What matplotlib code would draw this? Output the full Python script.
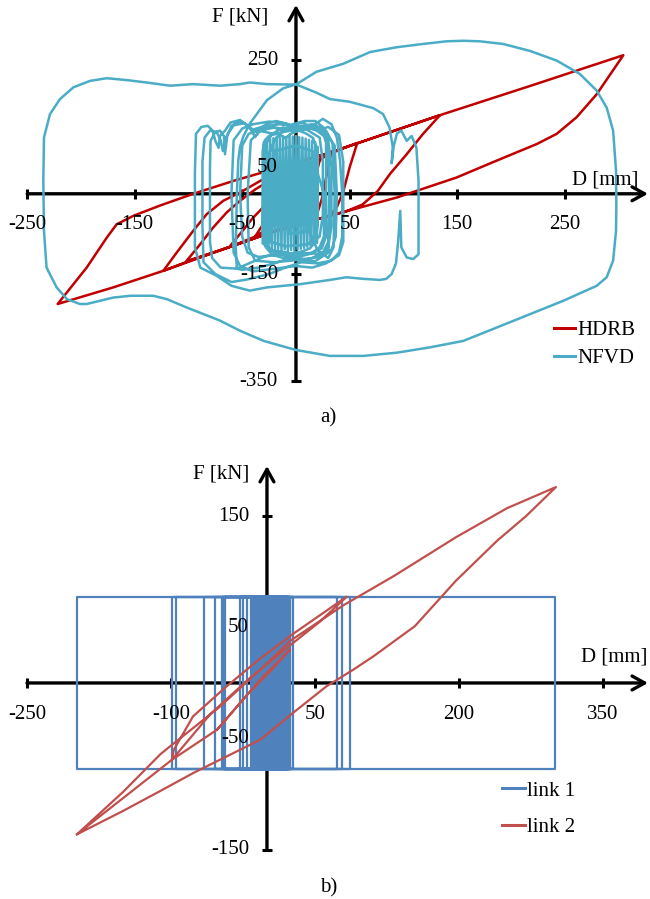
import matplotlib.pyplot as plt
from matplotlib.lines import Line2D

plt.rcParams['font.family'] = ['Liberation Serif', 'DejaVu Serif']
plt.rcParams['font.size'] = 15

W, H = 650, 899

# ---------------- a) HDRB / NFVD : D [mm], F [kN] ----------------
hdrb_small = [(-38, -80), (-30, -55), (-20, -25), (-5, 15), (10, 45), (22, 62),
              (18, 30), (14, 0), (8, -25), (-10, -45), (-38, -80), (-61, -99)]
hdrb_d = [(-61, -97), (-50, -70), (-40, -45), (-28, -20), (-15, 5), (0, 28),
          (15, 52), (33, 79), (28, 30), (24, -10), (18, -48), (-20, -70),
          (-61, -99), (-102, -126)]
hdrb_c = [(-102, -126), (-89, -94), (-77, -63), (-64.5, -35), (-52, -13),
          (-38, 8), (-20, 30), (0, 48), (20, 64), (40, 82), (57, 95),
          (50, 50), (44, 4), (38, -25), (31.6, -41), (-20, -70), (-58.3, -97),
          (-100, -126), (-123.4, -144)]
hdrb_b = [(-123.4, -144), (-111, -110), (-95.5, -69), (-83, -38), (-67.6, -13),
          (-52, 2.4), (-35, 22), (-15, 45), (10, 64), (31.6, 77), (80, 110),
          (134, 147), (118, 111.5), (103, 74), (87.4, 37), (76, 5), (62, -20),
          (45, -34), (31.6, -41), (-20, -70), (-58.3, -97), (-123.4, -144),
          (-170, -175), (-221.7, -206)]
hdrb_a = [(-221.7, -206), (-194.7, -138), (-176, -82), (-166.8, -57), (-151, -41),
          (-126.5, -22), (-95.5, 0), (-58.3, 24), (0, 58), (31.6, 77), (134, 147),
          (220, 203), (304.5, 259), (279.7, 186), (261, 143), (242.5, 112),
          (224, 93), (186.7, 62), (149.5, 30.5), (93.7, -7), (31.6, -41)]

nfvd_core_zig = [(-31, -92), (-30, 96), (-28.5, -98), (-27, 100), (-25.5, -100),
                 (-24, 102), (-22.5, -102), (-21, 104), (-19.5, -104), (-18, 106),
                 (-16.5, -103), (-15, 105), (-13.5, -106), (-12, 108), (-10.5, -104),
                 (-9, 106), (-7.5, -108), (-6, 110), (-4.5, -105), (-3, 107),
                 (-1.5, -106), (0, 108), (1.5, -104), (3, 106), (4.5, -103), (6, 105),
                 (7.5, -101), (9, 103), (10.5, -99), (12, 101), (13.5, -97), (15, 99),
                 (16.5, -95), (18, 96), (19.5, -92), (20, 88)]
nfvd_core_a = [(20, 88), (20, -60), (18, -90), (13, -102), (5, -108), (-5, -112),
               (-15, -108), (-25, -104), (-30, -94), (-31, -60), (-31, 80), (-29, 100),
               (-24, 110), (-16, 112), (-10, 104), (-5, 112), (3, 118), (10, 112),
               (16, 104), (19, 85), (20, 40), (26, 0)]
nfvd_core_b = [(26, 0), (26, -80), (22, -100), (14, -112), (2, -118), (-10, -116),
               (-20, -110), (-27, -98), (-29, -40), (-29, 90), (-22, 112), (-12, 124),
               (-2, 116), (8, 124), (18, 120), (26, 108), (30, 85), (31, 0), (30, -90),
               (25, -110), (15, -120), (3, -124), (-12, -120), (-22, -114),
               (-28, -100), (-30, -50)]
nfvd_core_c = [(-30, -50), (-28, 60), (-20, 100), (-12, 118), (-3, 130), (8, 136),
               (18, 136), (25, 125), (28, 100), (28, -80), (24, -102), (15, -110),
               (0, -114), (-14, -108)]
nfvd_mid = [(-30, -118), (-55, -140), (-70, -138), (-78, -120), (-80, -90), (-80, 50),
            (-79.4, 99), (-75.3, 114.6), (-70.7, 118), (-67, 108), (-66, 74),
            (-64, 108), (-60, 127), (-52, 136), (-45, 128), (-40, 115), (-35, 122),
            (-25, 126), (-10, 118), (0, 124), (12, 128), (22, 120), (30, 100),
            (33, 50), (33, -60), (30, -100), (22, -118), (10, -122), (-5, -120),
            (-20, -130), (-35, -138), (-50, -142), (-55, -140)]
nfvd_big = [(-55, -140), (-56, -100), (-55, 0), (-53.6, 63), (-52, 88), (-49, 107),
            (-43, 131), (-27, 175), (-12, 197), (0.6, 205), (19, 228), (44, 243),
            (69, 265), (94, 274), (118, 280), (140, 285), (155.6, 286), (171, 285),
            (192.8, 280), (217.7, 267), (242.5, 249), (264, 224), (279.7, 193),
            (289, 161), (295, 118), (297.7, 43), (298, -20), (297.7, -69),
            (295, -125), (289, -156), (279.7, -172), (248.6, -200), (217.7, -225),
            (186.7, -250), (155.6, -275), (124.7, -287), (93.7, -297), (62.6, -303),
            (31.6, -303), (0, -292), (-30, -275), (-52, -256), (-70.7, -237),
            (-101.7, -212.5), (-120, -197), (-132.7, -190.6), (-154, -190.6),
            (-170, -194), (-194.7, -206), (-201, -206), (-213, -197), (-222.6, -175),
            (-232, -138), (-234.4, -69), (-235, 24), (-234.4, 105), (-228.8, 149),
            (-219.5, 177), (-207, 199), (-191.6, 211), (-176, 216), (-157.5, 212.5),
            (-139, 208), (-117, 202), (-95.5, 205), (-70.7, 202), (-52, 205),
            (-43, 208), (-27, 205), (0.6, 204), (19, 189), (31.6, 177), (50, 172),
            (72, 160), (81, 149), (87, 124), (90, 88), (89, 57), (91, 90), (94, 113),
            (98, 118), (103, 99), (107.6, 108), (112, 86.5), (114, 24), (114, -113),
            (109, -122), (103, -119), (98, -100), (97, -32), (95, -90), (93, -130),
            (89, -150), (84, -159), (78, -161), (62.6, -159), (47, -156),
            (31.6, -161), (3.7, -169), (-27, -175), (-43, -181), (-60, -172),
            (-74, -153), (-89, -138), (-94, -100)]
nfvd_left = [(-94, -100), (-94, 40), (-93, 112), (-88, 125), (-82, 127), (-77.5, 118),
             (-75, 99), (-72, 86), (-70.7, 108), (-66, 118), (-61, 133), (-52, 138),
             (-43, 124), (-38, 106), (-32, 124), (-27, 131), (-18, 136), (-5, 128),
             (7, 133), (13, 124), (25, 140), (33, 130), (38, 105), (41, 62), (43, 0),
             (43, -80), (40, -110), (33, -125), (20, -130), (5, -128), (-10, -138),
             (-25, -150), (-45, -160), (-60, -165), (-75, -150), (-86, -128),
             (-87, -60), (-87, 60), (-85, 105), (-80, 118), (-74, 116), (-70, 100),
             (-68, 80), (-64, 110), (-58, 128), (-48, 132), (-40, 120), (-30, 126),
             (-15, 130), (0, 125), (15, 130), (26, 118), (36, 90), (38, 0),
             (37, -80), (33, -105), (20, -112), (0, -110), (-20, -115), (-35, -118),
             (-45, -110), (-50, -80), (-52, 0), (-50, 90), (-44, 112), (-35, 118),
             (-20, 112), (-5, 118), (10, 120), (22, 105), (25, 60), (25, -40),
             (22, -80), (10, -95), (-10, -98), (-24, -90), (-26, 0), (-20, 80),
             (0, 90), (15, 80), (18, 0), (10, -70), (-5, -75), (-12, 0), (0, 60), (5, 0)]
nfvd_extra = [(5, 0), (10, -60), (20, -105), (30, -120), (35, -100), (36, 0),
              (34, 95), (28, 118), (18, 128), (5, 122), (-10, 132), (-25, 135),
              (-40, 130), (-50, 122), (-58, 100), (-60, 0), (-58, -110), (-52, -135),
              (-40, -145), (-20, -140), (0, -135), (15, -138), (28, -130), (40, -115),
              (44, -90), (44, 60), (40, 110), (30, 125), (20, 118), (8, 126),
              (-8, 120), (-20, 124), (-33, 118), (-42, 100), (-45, 0), (-44, -100),
              (-38, -125), (-20, -128), (0, -124), (18, -126), (30, -110), (32, 0)]

# ---------------- b) link 1 / link 2 ----------------
link1_top, link1_bot = 77, -77
link1_turns = [2.5, 1, 4, -0.5, 5.5, -2, 7, -3.5, 8.5, -5, 10, -6.5, 11.5, -8,
               13, -9.5, 14.5, -11, 16, -12.5, 17.5, -14, 19, -15.5, 20.5, -17,
               22, -21, 24, -25, 26.6, -28, 21, -44, 23, -47, 72.6, -54, 86, -99,
               300, -198, 77.8, -95, 24, -66, 20, -45, 18, -16, 15, -12]

link2_small = [(-52, -42), (-30, -20), (-5, 5), (24, 30), (5, 12), (-20, -10), (-52, -42)]
link2_mid = [(-99, -69), (-97, -60), (-77, -30), (-42, -3), (-7, 22), (27, 44),
             (83, 77.5), (55, 55), (20, 31), (-21, 2), (-59, -28), (-99, -69)]
link2_outer = [(-198, -136), (-150, -98), (-111, -64), (-101, -57), (-50, -22),
               (-7, 12), (24.5, 38), (80, 70), (132, 96), (197, 131), (250, 157),
               (301, 176), (270, 150), (240, 128), (197, 92), (154, 51), (111, 24),
               (90, 12), (62, -3), (27, -27), (-7, -51), (-42, -66), (-77, -81),
               (-111, -97), (-150, -115), (-198, -136)]

c_hdrb, c_nfvd = '#C00000', '#4BACC6'
c_link1, c_link2 = '#4F81BD', '#C0504D'


def join(*parts):
    pts = [p for part in parts for p in part]
    return [p[0] for p in pts], [p[1] for p in pts]


def rigid_plastic(turns, top, bot):
    xs, ys = [0.0], [top]
    for i, t in enumerate(turns):
        xs += [t, t]
        ys += [top, bot] if i % 2 == 0 else [bot, top]
    return xs, ys


def ftext(x, y, s, **kw):
    fig.text(x / W, 1 - y / H, s, **kw)


def cross_axes(ax, xr, yr, xticks, yticks, xoff):
    arrow = dict(arrowstyle='->,head_length=0.45,head_width=0.25', lw=2.4,
                 color='k', shrinkA=0, shrinkB=0, mutation_scale=20)
    ax.annotate('', xy=(xr[1], 0), xytext=(xr[0], 0), arrowprops=arrow, zorder=1)
    ax.annotate('', xy=(0, yr[1]), xytext=(0, yr[0]), arrowprops=arrow, zorder=1)
    ax.plot(xticks, [0] * len(xticks), ls='none', marker='|', ms=7.5, mew=2.2,
            color='k', zorder=1)
    ax.plot([0] * len(yticks), yticks, ls='none', marker='_', ms=7.5, mew=2.2,
            color='k', zorder=1)
    for v in xticks:
        ax.annotate(str(v), xy=(v, 0), xytext=(0, -xoff * 0.72),
                    textcoords='offset points', ha='center', va='center', zorder=5)
    for v in yticks:
        ax.annotate(str(v), xy=(0, v), xytext=(-18 * 0.72, 0),
                    textcoords='offset points', ha='right', va='center', zorder=5)


fig = plt.figure(figsize=(W / 100, H / 100), dpi=100)

# panel a: 0..430 px from top
ax1 = fig.add_axes([0, 1 - 430 / H, 1, 430 / H])
ax1.set_xlim(-275.3, 329.3)
ax1.set_ylim(-441.5, 362.2)
ax1.axis('off')
hx, hy = join(hdrb_small, hdrb_d, hdrb_c, hdrb_b, hdrb_a)
nx, ny = join(nfvd_core_zig, nfvd_core_a, nfvd_core_b, nfvd_core_c, nfvd_mid,
              nfvd_big, nfvd_left, nfvd_extra)
ax1.plot(hx, hy, color=c_hdrb, lw=1.8, zorder=2, solid_joinstyle='round')
ax1.plot(nx, ny, color=c_nfvd, lw=1.8, zorder=3, solid_joinstyle='round')
cross_axes(ax1, (-250, 327.4), (-350, 353), [-250, -150, -50, 50, 150, 250],
           [250, 50, -150, -350], 31)
ax1.legend([Line2D([], [], color=c_hdrb, lw=2.2), Line2D([], [], color=c_nfvd, lw=2.2)],
           ['HDRB', 'NFVD'], loc='center left',
           bbox_to_anchor=(554 / W, 1 - 344.5 / H), bbox_transform=fig.transFigure,
           frameon=False, handlelength=1.0, handletextpad=0.1, borderpad=0,
           borderaxespad=0, labelspacing=0.4)

# panel b: 440..899 px from top
ax2 = fig.add_axes([0, 0, 1, 459 / H])
ax2.set_xlim(-278.1, 399.0)
ax2.set_ylim(-194.1, 218.3)
ax2.axis('off')
bx, by = rigid_plastic(link1_turns, link1_top, link1_bot)
rx, ry = join(link2_small, link2_mid, link2_outer)
ax2.plot(bx, by, color=c_link1, lw=1.6, zorder=2)
ax2.plot(rx, ry, color=c_link2, lw=1.6, zorder=3)
cross_axes(ax2, (-250, 396.9), (-150, 195), [-250, -100, 50, 200, 350],
           [150, 50, -50, -150], 32)
ax2.legend([Line2D([], [], color=c_link1, lw=2.2), Line2D([], [], color=c_link2, lw=2.2)],
           ['link 1', 'link 2'], loc='center left',
           bbox_to_anchor=(502 / W, 1 - 809 / H), bbox_transform=fig.transFigure,
           frameon=False, handlelength=1.1, handletextpad=0.1, borderpad=0,
           borderaxespad=0, labelspacing=0.8)

ftext(268, 17, 'F [kN]', ha='right', va='center')
ftext(638, 180, 'D [mm]', ha='right', va='center')
ftext(328, 418, 'a)', ha='center', va='center')
ftext(249, 474, 'F [kN]', ha='right', va='center')
ftext(647, 657, 'D [mm]', ha='right', va='center')
ftext(329, 888, 'b)', ha='center', va='center')

fig.savefig('out.png', dpi=100)
